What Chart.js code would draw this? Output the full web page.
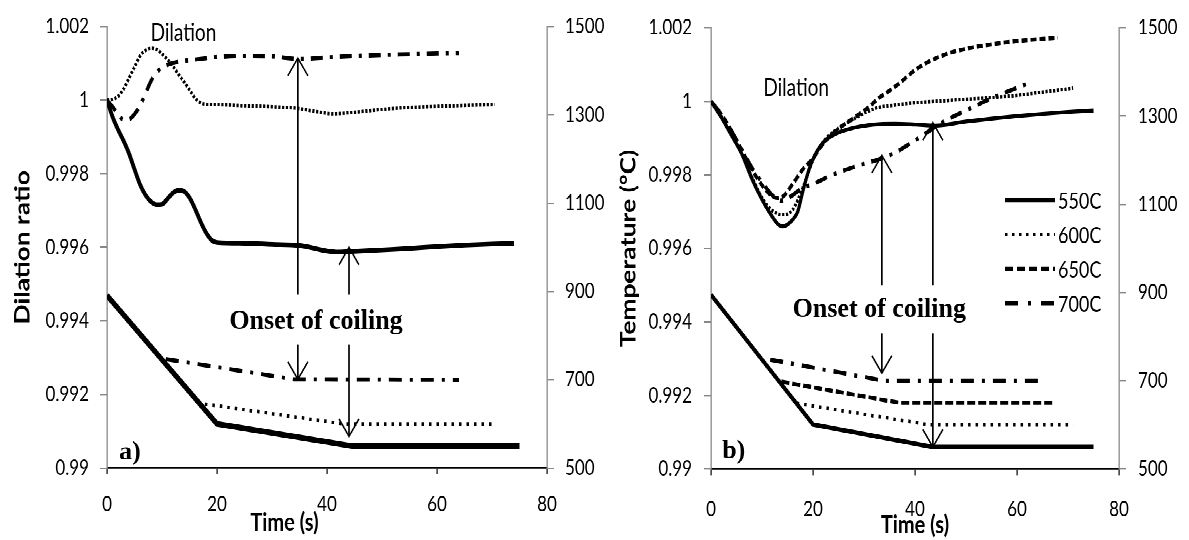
<!DOCTYPE html>
<html>
<head>
<meta charset="utf-8">
<title>Dilation ratio and temperature vs time</title>
<script src="https://cdn.jsdelivr.net/npm/chart.js@4.4.1/dist/chart.umd.min.js"></script>
<style>
  html, body { margin: 0; padding: 0; background: #fff; }
  body { width: 1189px; height: 540px; }
  /* the original figure is stretched vertically, so draw at 432px and stretch */
  #figure { position: relative; width: 1189px; height: 432px; transform: scaleY(1.25); transform-origin: 0 0; }
  .panel { position: absolute; top: 0; height: 432px; }
  #panelA { left: 0; width: 615px; }
  #panelB { left: 600px; width: 589px; }
</style>
</head>
<body>
<div id="figure">
  <div class="panel" id="panelA"><canvas id="chartA"></canvas></div>
  <div class="panel" id="panelB"><canvas id="chartB"></canvas></div>
</div>
<script>
// ---- panel a) dilation ratio (left axis) ----
const a550DilT = [0, 1, 2, 3, 4, 5, 6, 7, 8, 9, 10, 11, 12, 13, 14, 15, 16, 17, 18, 19, 20, 25, 30, 35, 40, 42, 45, 50, 55, 60, 65, 70, 74];
const a550Dil = [1.0, 0.99955, 0.9992, 0.9989, 0.99855, 0.99812, 0.99771, 0.99742, 0.99724, 0.99716, 0.99717, 0.99732, 0.99748, 0.99755, 0.99752, 0.99735, 0.99705, 0.9967, 0.9964, 0.9962, 0.99613, 0.99611, 0.99608, 0.99605, 0.9959, 0.99587, 0.99589, 0.99593, 0.99597, 0.99602, 0.99606, 0.99609, 0.99611];
const a600DilT = [0, 1, 2, 3, 4, 5, 6, 7, 8, 9, 10, 11, 12, 13, 14, 15, 16, 17, 18, 20, 25, 30, 35, 38, 41, 45, 50, 55, 60, 65, 70.5];
const a600Dil = [1.0, 1.00002, 1.0001, 1.0003, 1.0006, 1.0009, 1.0012, 1.00135, 1.00141, 1.00138, 1.00126, 1.0011, 1.00092, 1.0007, 1.0005, 1.00028, 1.00006, 0.99993, 0.99989, 0.99988, 0.99985, 0.99982, 0.99977, 0.99969, 0.99963, 0.99967, 0.99975, 0.9998, 0.99983, 0.99986, 0.99988];
const a700DilT = [0, 1, 2, 3, 4, 5, 6, 7, 8, 9, 10, 11, 12, 14, 17, 20, 25, 30, 33, 35, 40, 45, 50, 55, 60, 64];
const a700Dil = [1.0, 0.99982, 0.99962, 0.99947, 0.99948, 0.99962, 0.99985, 1.00018, 1.00052, 1.00075, 1.00088, 1.00096, 1.00101, 1.00107, 1.00112, 1.00117, 1.0012, 1.00119, 1.00114, 1.00112, 1.00116, 1.0012, 1.00123, 1.00125, 1.00127, 1.00128];

// ---- panel a) temperature (right axis) ----
const a550TempT = [0, 20, 44.5, 75];
const a550Temp = [891, 600, 550, 550];
const a600TempT = [17.8, 43, 70.5];
const a600Temp = [645, 600, 600];
const a700TempT = [10.7, 34, 64];
const a700Temp = [747, 701, 700];

// ---- panel b) dilation ratio ----
const b550DilT = [0, 2, 4, 6, 8, 10, 11.6, 13, 14, 15, 16, 17, 18, 19, 20, 22, 25, 28, 32, 36, 40, 44, 50, 55, 60, 65, 70, 75];
const b550Dil = [1.0, 0.99957, 0.99908, 0.99858, 0.9979, 0.99733, 0.99695, 0.99668, 0.9966, 0.99665, 0.99678, 0.997, 0.99755, 0.99805, 0.99843, 0.99888, 0.99915, 0.99928, 0.99937, 0.99939, 0.99937, 0.99934, 0.99945, 0.99953, 0.9996, 0.99966, 0.99971, 0.99975];
const b600DilT = [0, 2, 4, 6, 8, 10, 12, 14, 16, 18, 20, 22, 25, 28, 32, 36, 40, 45, 50, 55, 59, 65, 71];
const b600Dil = [1.0, 0.9996, 0.9991, 0.9986, 0.99795, 0.99738, 0.99703, 0.99692, 0.99705, 0.99765, 0.9984, 0.9989, 0.99927, 0.99952, 0.9998, 0.9999, 0.99996, 1.00001, 1.00006, 1.0001, 1.00015, 1.00025, 1.00036];
const b650DilT = [0, 2, 4, 6, 8, 10, 12, 13, 14, 16, 18, 20, 22, 25, 28, 31, 33, 35, 37, 40, 43, 46, 50, 55, 60, 65, 68];
const b650Dil = [1.0, 0.99965, 0.9992, 0.99868, 0.99815, 0.99772, 0.99742, 0.99737, 0.9974, 0.99775, 0.99815, 0.99845, 0.99885, 0.99925, 0.99955, 0.99985, 1.0001, 1.00029, 1.0005, 1.00085, 1.0011, 1.00128, 1.00143, 1.00155, 1.00164, 1.0017, 1.00173];
const b700DilT = [0, 2, 4, 6, 8, 10, 12, 14, 16, 18, 20, 23, 26, 30, 33, 36, 39, 42, 45, 48, 51, 54, 57, 60, 63];
const b700Dil = [1.0, 0.99965, 0.9992, 0.9987, 0.9982, 0.9978, 0.99745, 0.9973, 0.99745, 0.99765, 0.99775, 0.99795, 0.99812, 0.9983, 0.99843, 0.9986, 0.99885, 0.99912, 0.9994, 0.99962, 0.99982, 1.00002, 1.0002, 1.00037, 1.00053];

// ---- panel b) temperature ----
const b550TempT = [0, 20, 43.5, 75];
const b550Temp = [895, 601, 550, 550];
const b600TempT = [16.8, 43, 71];
const b600Temp = [649, 600, 600];
const b650TempT = [13.8, 37, 67];
const b650Temp = [698, 650, 650];
const b700TempT = [11.6, 34, 64.5];
const b700Temp = [748, 700, 700];

const legendLabels = ['550C', '600C', '650C', '700C'];

// line look of each coiling temperature
const lineStyles = {
  '550C': { dilDash: [], tempDash: [], legendDash: [], width: 3.2 },
  '600C': { dilDash: [2.2, 1.6], tempDash: [2.5, 5], legendDash: [2.5, 4.5], width: 2.8 },
  '650C': { dilDash: [6, 3], tempDash: [8, 3], legendDash: [8, 4], width: 3.3 },
  '700C': { dilDash: [12, 7, 3, 7], tempDash: [13, 8, 3, 8], legendDash: [13, 10, 3, 10], width: 3.4 }
};

const tickFont = { family: 'Lato', size: 17 };
const tickColor = '#000';

function pts(xs, ys) {
  return xs.map((x, i) => ({ x: x, y: ys[i] }));
}

function series(label, times, values, isTemp, widthBoost) {
  const st = lineStyles[label];
  return {
    label: label,
    data: pts(times, values),
    yAxisID: isTemp ? 'y2' : 'y',
    borderColor: '#000',
    borderWidth: st.width + (label === '550C' ? widthBoost : 0),
    borderDash: isTemp ? st.tempDash : st.dilDash,
    pointRadius: 0,
    cubicInterpolationMode: isTemp ? 'default' : 'monotone',
    tension: 0,
    fill: false
  };
}

// arrows, free text and the line legend
const notesPlugin = {
  id: 'notes',
  afterDatasetsDraw(chart, args, opts) {
    const ctx = chart.ctx;
    const xs = chart.scales.x;
    const ys = chart.scales.y;
    ctx.save();
    ctx.fillStyle = '#000';
    ctx.strokeStyle = '#000';
    ctx.setLineDash([]);

    (opts.arrows || []).forEach(a => {
      const x = xs.getPixelForValue(a.t);
      const y0 = ys.getPixelForValue(a.from);
      const y1 = ys.getPixelForValue(a.to);
      const dir = y1 < y0 ? 1 : -1;
      ctx.lineWidth = 1.7;
      ctx.beginPath();
      ctx.moveTo(x, y0);
      ctx.lineTo(x, y1);
      ctx.stroke();
      ctx.lineWidth = 1.4;
      ctx.beginPath();
      ctx.moveTo(x - 10, y1 + dir * 14);
      ctx.lineTo(x, y1);
      ctx.lineTo(x + 10, y1 + dir * 14);
      ctx.stroke();
    });

    (opts.texts || []).forEach(tx => {
      const x = tx.px != null ? tx.px : xs.getPixelForValue(tx.t);
      const y = tx.py != null ? tx.py : ys.getPixelForValue(tx.v);
      ctx.save();
      ctx.font = tx.font;
      ctx.textAlign = tx.align || 'center';
      ctx.textBaseline = tx.baseline || 'middle';
      ctx.translate(x, y);
      ctx.scale(1, tx.sy || 1);
      ctx.fillText(tx.text, 0, 0);
      ctx.restore();
    });

    if (opts.legend) {
      const lg = opts.legend;
      lg.labels.forEach((lab, i) => {
        const st = lineStyles[lab];
        const y = lg.y + i * lg.gap;
        ctx.lineWidth = st.width;
        ctx.setLineDash(st.legendDash);
        ctx.beginPath();
        ctx.moveTo(lg.x0, y);
        ctx.lineTo(lg.x1, y);
        ctx.stroke();
        ctx.setLineDash([]);
        ctx.font = '18px Lato';
        ctx.textAlign = 'left';
        ctx.textBaseline = 'middle';
        ctx.fillText(lab, lg.x1 + 3, y + 1);
      });
    }
    ctx.restore();
  }
};

function buildChart(canvasId, cfg) {
  return new Chart(document.getElementById(canvasId), {
    type: 'line',
    data: { datasets: cfg.datasets },
    plugins: [notesPlugin],
    options: {
      responsive: true,
      maintainAspectRatio: false,
      devicePixelRatio: 2,
      animation: false,
      layout: { padding: { top: cfg.top, left: 0, right: 0, bottom: 0 } },
      plugins: {
        legend: { display: false },
        tooltip: { enabled: false },
        notes: cfg.notes
      },
      scales: {
        x: {
          type: 'linear',
          min: 0,
          max: 80,
          ticks: { stepSize: 20, padding: cfg.xTickPad, color: tickColor, font: tickFont, maxRotation: 0 },
          grid: { drawOnChartArea: false, tickLength: 5, color: '#000', lineWidth: 1.2 },
          border: { color: '#000', width: 1.4 },
          title: cfg.xTitle,
          afterFit: s => { s.height = cfg.xHeight; }
        },
        y: {
          position: 'left',
          min: 0.99,
          max: 1.002,
          ticks: {
            stepSize: 0.002,
            padding: cfg.yTickPad,
            color: tickColor,
            font: tickFont,
            callback: v => String(+v.toFixed(3))
          },
          grid: { drawOnChartArea: false, tickLength: 7, color: '#888', lineWidth: 1.2 },
          border: { color: '#888', width: 1.3 },
          title: cfg.yTitle,
          afterFit: s => { s.width = cfg.yWidth; }
        },
        y2: {
          position: 'right',
          min: 500,
          max: 1500,
          ticks: {
            stepSize: 200,
            padding: cfg.yTickPad,
            color: tickColor,
            font: tickFont,
            callback: v => String(Math.round(v))
          },
          grid: { drawOnChartArea: false, tickLength: 7, color: '#888', lineWidth: 1.2 },
          border: { color: '#888', width: 1.3 },
          afterFit: s => { s.width = cfg.y2Width; }
        }
      }
    }
  });
}

const serifFont = 'bold 26px "Liberation Serif", "Times New Roman", serif';

buildChart('chartA', {
  top: 16,
  xHeight: 57.6,
  yWidth: 107,
  y2Width: 68,
  xTickPad: 14,
  yTickPad: 11,
  xTitle: { display: false },
  yTitle: {
    display: true, text: 'Dilation ratio', color: '#000',
    font: { family: 'Lato', size: 21, weight: 'bold' }, padding: { top: 10, bottom: 0 }
  },
  datasets: [
    series('550C', a550DilT, a550Dil, false, 0.6),
    series('600C', a600DilT, a600Dil, false, 0),
    series('700C', a700DilT, a700Dil, false, 0),
    series('550C', a550TempT, a550Temp, true, 1.4),
    series('600C', a600TempT, a600Temp, true, 0),
    series('700C', a700TempT, a700Temp, true, 0)
  ],
  notes: {
    arrows: [
      { t: 34.7, from: 0.99471, to: 1.00114 },
      { t: 34.7, from: 0.99335, to: 0.99241 },
      { t: 44, from: 0.99471, to: 0.99600 },
      { t: 44, from: 0.99335, to: 0.99086 }
    ],
    texts: [
      { text: 'Dilation', t: 13.9, v: 1.00183, font: '19px Lato' },
      { text: 'Onset of coiling', t: 38, v: 0.99378, font: serifFont, baseline: 'alphabetic', sy: 0.86 },
      { text: 'a)', t: 2.2, v: 0.99024, font: serifFont, align: 'left', baseline: 'alphabetic', sy: 0.8 },
      { text: 'Time (s)', px: 284.5, py: 418, font: 'bold 20px Lato' }
    ]
  }
});

buildChart('chartB', {
  top: 21.6,
  xHeight: 56.8,
  yWidth: 111,
  y2Width: 70,
  xTickPad: 17,
  yTickPad: 12,
  xTitle: {
    display: true, text: 'Time (s)', color: '#000',
    font: { family: 'Lato', size: 20, weight: 'bold' }, padding: { top: 0, bottom: 0 }
  },
  yTitle: {
    display: true, text: 'Temperature (°C)', color: '#000',
    font: { family: 'Lato', size: 21, weight: 'bold' }, padding: { top: 16, bottom: 0 }
  },
  datasets: [
    series('550C', b550DilT, b550Dil, false, 0),
    series('600C', b600DilT, b600Dil, false, 0),
    series('650C', b650DilT, b650Dil, false, 0),
    series('700C', b700DilT, b700Dil, false, 0),
    series('550C', b550TempT, b550Temp, true, 0.4),
    series('600C', b600TempT, b600Temp, true, 0),
    series('650C', b650TempT, b650Temp, true, 0),
    series('700C', b700TempT, b700Temp, true, 0)
  ],
  notes: {
    arrows: [
      { t: 33.5, from: 0.99500, to: 0.99853 },
      { t: 33.5, from: 0.99369, to: 0.99261 },
      { t: 43.5, from: 0.99500, to: 0.99942 },
      { t: 43.5, from: 0.99369, to: 0.99060 }
    ],
    texts: [
      { text: 'Dilation', t: 16.7, v: 1.00036, font: '19px Lato' },
      { text: 'Onset of coiling', t: 33, v: 0.99413, font: serifFont, baseline: 'alphabetic', sy: 0.86 },
      { text: 'b)', t: 2.2, v: 0.9903, font: serifFont, align: 'left', baseline: 'alphabetic', sy: 0.8 }
    ],
    legend: { labels: legendLabels, x0: 405, x1: 455, y: 160, gap: 27.5 }
  }
});
</script>
</body>
</html>
